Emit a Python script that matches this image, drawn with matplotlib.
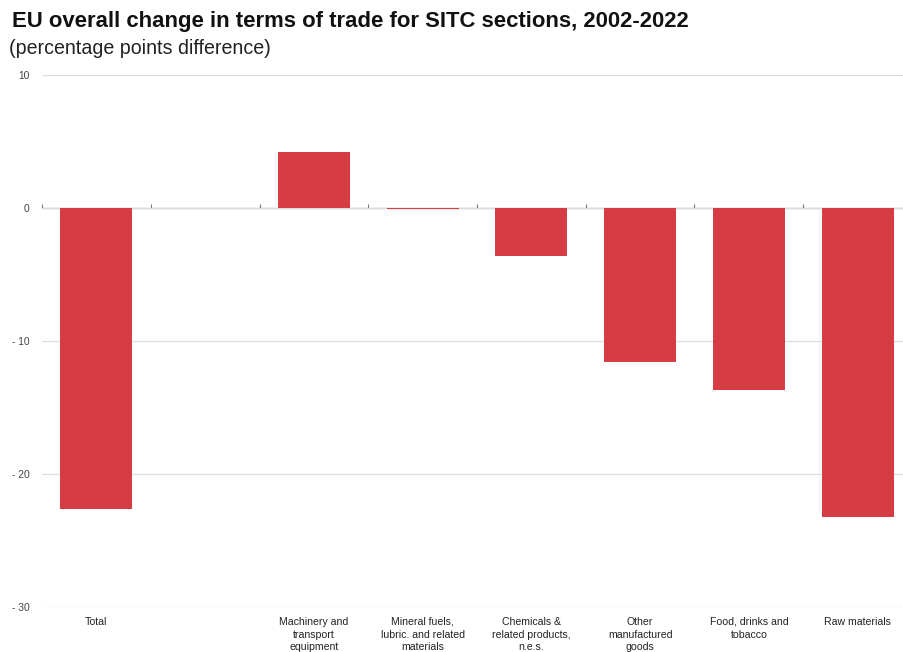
import matplotlib
matplotlib.use("Agg")
import matplotlib.pyplot as plt
from matplotlib import font_manager

categories = [
    "Total",
    "",
    "Machinery and\ntransport\nequipment",
    "Mineral fuels,\nlubric. and related\nmaterials",
    "Chemicals &\nrelated products,\nn.e.s.",
    "Other\nmanufactured\ngoods",
    "Food, drinks and\ntobacco",
    "Raw materials",
]
values = [-22.6, None, 4.2, -0.1, -3.6, -11.6, -13.7, -23.2]
yticks = [10, 0, -10, -20, -30]
ytick_labels = ["10", "0", "- 10", "- 20", "- 30"]

installed = {f.name for f in font_manager.fontManager.ttflist}
label_font = ["Liberation Sans Narrow", "Liberation Sans", "DejaVu Sans"]
label_font = [f for f in label_font if f in installed] or ["DejaVu Sans"]
plt.rcParams["font.family"] = ["Liberation Sans", "DejaVu Sans"]

W, H = 904, 652
fig = plt.figure(figsize=(W / 100, H / 100), dpi=100)
ax = fig.add_axes([42 / W, 45 / H, 870 / W, 532 / H])

bar_color = "#d63c43"
xs = [i for i, v in enumerate(values) if v is not None]
vs = [v for v in values if v is not None]
ax.bar(xs, vs, width=0.66, color=bar_color, zorder=3)

ax.set_xlim(-0.5, len(categories) - 0.5)
ax.set_ylim(-30, 10)

# horizontal gridlines
ax.set_yticks(yticks)
ax.set_yticklabels(ytick_labels, fontsize=7.4, color="#444444")
ax.tick_params(axis="y", length=0, pad=9)
ax.yaxis.grid(True, color="#dcdcdc", linewidth=0.9, zorder=0)
ax.set_axisbelow(True)

# category labels along the bottom
ax.set_xticks(range(len(categories)))
ax.set_xticklabels(categories, fontsize=7.6, color="#222222",
                   family=label_font, linespacing=1.35, va="top")
ax.tick_params(axis="x", length=0, pad=7)

for s in ax.spines.values():
    s.set_visible(False)

# zero baseline with small boundary ticks
zero_frac = (0 - (-30)) / 40
sec = ax.secondary_xaxis(zero_frac)
sec.set_xticks([i - 0.5 for i in range(len(categories) + 1)])
sec.set_xticklabels([])
sec.tick_params(axis="x", direction="out", length=3, width=0.8, color="#777777")
sec.spines["bottom"].set_color("#7a7a7a")
sec.spines["bottom"].set_linewidth(1.2)
sec.spines["bottom"].set_zorder(4)

fig.text(12 / W, 1 - 21 / H,
         "EU overall change in terms of trade for SITC sections, 2002-2022",
         fontsize=15.9, fontweight="bold", color="#111111", va="center")
fig.text(9 / W, 1 - 48 / H, "(percentage points difference)",
         fontsize=14.1, color="#222222", va="center")

fig.savefig("out.png", dpi=100)
